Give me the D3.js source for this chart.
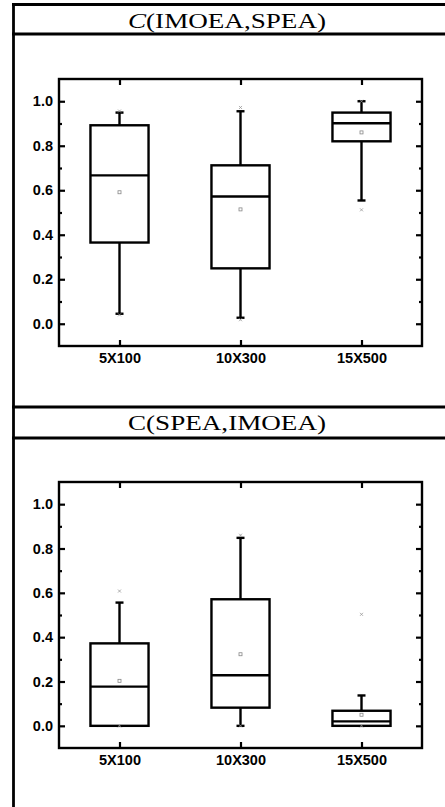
<!DOCTYPE html>
<html>
<head>
<meta charset="utf-8">
<script src="https://cdn.jsdelivr.net/npm/d3@7"></script>
<style>
  body { margin: 0; background: #fff; }
</style>
</head>
<body>
<div id="chart"></div>
<script>
const categories = ["5X100", "10X300", "15X500"];
const yTicks = [0, 0.2, 0.4, 0.6, 0.8, 1.0];
const yMinorTicks = [0.1, 0.3, 0.5, 0.7, 0.9];

// C(IMOEA,SPEA)
const topQ1 = [0.365, 0.249, 0.82];
const topMedian = [0.667, 0.572, 0.901];
const topQ3 = [0.892, 0.712, 0.949];
const topWhiskerLow = [0.045, 0.027, 0.554];
const topWhiskerHigh = [0.949, 0.955, 1.0];
const topMean = [0.591, 0.514, 0.86];
const topMin = [0.04, 0.018, 0.512];
const topMax = [0.956, 0.972, 1.0];

// C(SPEA,IMOEA)
const botQ1 = [0.0, 0.082, 0.0];
const botMedian = [0.177, 0.228, 0.02];
const botQ3 = [0.372, 0.571, 0.068];
const botWhiskerLow = [0.0, 0.0, 0.0];
const botWhiskerHigh = [0.556, 0.848, 0.137];
const botMean = [0.203, 0.323, 0.05];
const botMin = [0.0, 0.0, 0.0];
const botMax = [0.608, 0.86, 0.503];

const W = 445, H = 807;
const svg = d3.select("#chart").append("svg")
  .attr("width", W)
  .attr("height", H);

// table frame
const frame = svg.append("g").attr("stroke", "#000").attr("stroke-width", 2.8);
frame.append("line").attr("x1", 13.5).attr("x2", 13.5).attr("y1", 3).attr("y2", H);
[4.5, 34, 407, 438].forEach(y => {
  frame.append("line").attr("x1", 12).attr("x2", W).attr("y1", y).attr("y2", y);
});

function drawTitle(y, italicC, rest) {
  const t = svg.append("text")
    .attr("x", 227)
    .attr("y", y)
    .attr("text-anchor", "middle")
    .attr("font-family", "'Liberation Serif', 'Times New Roman', serif")
    .attr("font-size", "20px")
    .attr("textLength", 198)
    .attr("lengthAdjust", "spacingAndGlyphs");
  t.append("tspan").attr("font-style", italicC ? "italic" : "normal").text("C");
  t.append("tspan").text(rest);
}

drawTitle(28, true, "(IMOEA,SPEA)");
drawTitle(430, false, "(SPEA,IMOEA)");

function createGraph(top, bottom, stats) {
  const left = 59, right = 422;
  const g = svg.append("g");

  const x = d3.scalePoint().domain(categories).range([left, right]).padding(0.5);
  const y = d3.scaleLinear().domain([-0.1, 1.1]).range([bottom, top]);
  const boxW = x.step() * 0.48;
  const capW = 8;

  const axes = [
    { axis: d3.axisLeft(y).tickValues(yTicks).tickSize(-6).tickPadding(6).tickFormat(d3.format(".1f")), t: `translate(${left},0)` },
    { axis: d3.axisLeft(y).tickValues(yMinorTicks).tickSize(-3).tickFormat(""), t: `translate(${left},0)` },
    { axis: d3.axisRight(y).tickValues(yTicks).tickSize(-6).tickFormat(""), t: `translate(${right},0)` },
    { axis: d3.axisRight(y).tickValues(yMinorTicks).tickSize(-3).tickFormat(""), t: `translate(${right},0)` },
    { axis: d3.axisBottom(x).tickSize(-6).tickPadding(7), t: `translate(0,${bottom})` },
    { axis: d3.axisTop(x).tickSize(-6).tickFormat(""), t: `translate(0,${top})` }
  ];
  axes.forEach(a => {
    const ag = g.append("g").attr("transform", a.t).call(a.axis);
    ag.select(".domain").remove();
    ag.selectAll(".tick line").attr("stroke", "#000").attr("stroke-width", 2.2);
    ag.selectAll("text")
      .attr("fill", "#000")
      .attr("font-family", "'Liberation Sans', Arial, sans-serif")
      .attr("font-weight", "bold")
      .attr("font-size", "14.5px");
  });

  g.append("rect")
    .attr("x", left).attr("y", top)
    .attr("width", right - left).attr("height", bottom - top)
    .attr("fill", "none").attr("stroke", "#000").attr("stroke-width", 2.4);

  const rows = categories.map((c, i) => ({
    c,
    q1: stats.q1[i], med: stats.median[i], q3: stats.q3[i],
    lo: stats.whiskerLow[i], hi: stats.whiskerHigh[i],
    mean: stats.mean[i], min: stats.min[i], max: stats.max[i]
  }));

  const box = g.selectAll(".box").data(rows).enter().append("g")
    .attr("class", "box")
    .attr("stroke", "#000")
    .attr("stroke-width", 2.4)
    .attr("fill", "none");

  // whiskers
  box.append("line")
    .attr("x1", d => x(d.c)).attr("x2", d => x(d.c))
    .attr("y1", d => y(d.q3)).attr("y2", d => y(d.hi));
  box.append("line")
    .attr("x1", d => x(d.c)).attr("x2", d => x(d.c))
    .attr("y1", d => y(d.q1)).attr("y2", d => y(d.lo));
  box.append("line")
    .attr("x1", d => x(d.c) - capW / 2).attr("x2", d => x(d.c) + capW / 2)
    .attr("y1", d => y(d.hi)).attr("y2", d => y(d.hi));
  box.append("line")
    .attr("x1", d => x(d.c) - capW / 2).attr("x2", d => x(d.c) + capW / 2)
    .attr("y1", d => y(d.lo)).attr("y2", d => y(d.lo));

  box.append("rect")
    .attr("x", d => x(d.c) - boxW / 2)
    .attr("y", d => y(d.q3))
    .attr("width", boxW)
    .attr("height", d => y(d.q1) - y(d.q3))
    .attr("fill", "#fff");

  box.append("line")
    .attr("x1", d => x(d.c) - boxW / 2).attr("x2", d => x(d.c) + boxW / 2)
    .attr("y1", d => y(d.med)).attr("y2", d => y(d.med));

  // mean marker
  g.selectAll(".mean").data(rows).enter().append("rect")
    .attr("class", "mean")
    .attr("x", d => x(d.c) - 1.5)
    .attr("y", d => y(d.mean) - 1.5)
    .attr("width", 3).attr("height", 3)
    .attr("fill", "none").attr("stroke", "#888").attr("stroke-width", 0.8);

  // min / max markers
  const marks = rows.flatMap(d => [{ c: d.c, v: d.min }, { c: d.c, v: d.max }]);
  g.selectAll(".mark").data(marks).enter().append("path")
    .attr("class", "mark")
    .attr("transform", d => `translate(${x(d.c)},${y(d.v)})`)
    .attr("d", "M-1.5,-1.5L1.5,1.5M-1.5,1.5L1.5,-1.5")
    .attr("stroke", "#999").attr("stroke-width", 0.8);
}

createGraph(79, 346, {
  q1: topQ1, median: topMedian, q3: topQ3,
  whiskerLow: topWhiskerLow, whiskerHigh: topWhiskerHigh,
  mean: topMean, min: topMin, max: topMax
});

createGraph(482, 748, {
  q1: botQ1, median: botMedian, q3: botQ3,
  whiskerLow: botWhiskerLow, whiskerHigh: botWhiskerHigh,
  mean: botMean, min: botMin, max: botMax
});
</script>
</body>
</html>
